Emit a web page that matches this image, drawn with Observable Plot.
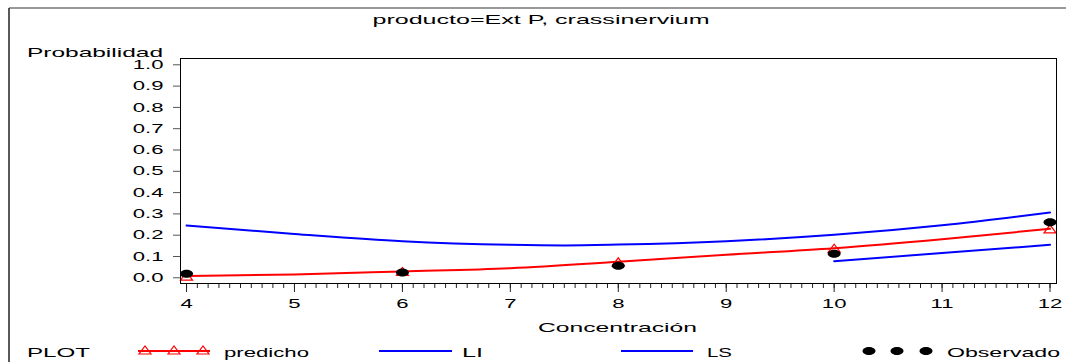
<!DOCTYPE html>
<html><head><meta charset="utf-8">
<script src="https://cdn.jsdelivr.net/npm/d3@7"></script>
<script src="https://cdn.jsdelivr.net/npm/@observablehq/plot@0.6"></script>
<style>
body{margin:0;background:#fff;}
#wrap{position:relative;width:1066px;height:362px;overflow:hidden;font-family:"Liberation Sans",Arial,sans-serif;}
#wrap svg{position:absolute;left:0;top:0;}
</style></head><body><div id="wrap"></div>
<script>
// ---- data ----
const titleText = "producto=Ext P, crassinervium";
const yLabel = "Probabilidad";
const xLabel = "Concentración";
const legendLabels = ["predicho", "LI", "LS", "Observado"];

const predX = [4, 5, 6, 7, 8, 9, 10, 11, 12];
const predY = [0.008, 0.016, 0.030, 0.045, 0.075, 0.108, 0.139, 0.181, 0.230];
const predMarkX = [4, 6, 8, 10, 12];
const predMarkY = [0.008, 0.030, 0.075, 0.139, 0.230];
const lsX = [4, 5, 6, 7, 7.5, 8, 9, 10, 11, 12];
const lsY = [0.245, 0.206, 0.172, 0.155, 0.152, 0.156, 0.172, 0.202, 0.247, 0.307];
const liX = [10, 11, 12];
const liY = [0.078, 0.116, 0.155];
const obsX = [4, 6, 8, 10, 12];
const obsY = [0.019, 0.025, 0.056, 0.113, 0.261];
const xTicks = [4, 5, 6, 7, 8, 9, 10, 11, 12];
const yTicks = [0, 0.1, 0.2, 0.3, 0.4, 0.5, 0.6, 0.7, 0.8, 0.9, 1.0];

const toRows = (xs, ys) => xs.map((x, i) => ({x, y: ys[i]}));
const pred = toRows(predX, predY);
const predMarks = toRows(predMarkX, predMarkY);
const ls = toRows(lsX, lsY);
const li = toRows(liX, liY);
const obs = toRows(obsX, obsY);
const minorTicks = d3.range(40, 121).map(v => v / 10);

// custom stretched symbols
const ellipseSym = {draw(ctx) {
  const rx = 6.5, ry = 4, k = 0.5523;
  ctx.moveTo(rx, 0);
  ctx.bezierCurveTo(rx, ry * k, rx * k, ry, 0, ry);
  ctx.bezierCurveTo(-rx * k, ry, -rx, ry * k, -rx, 0);
  ctx.bezierCurveTo(-rx, -ry * k, -rx * k, -ry, 0, -ry);
  ctx.bezierCurveTo(rx * k, -ry, rx, -ry * k, rx, 0);
  ctx.closePath();
}};
const triSym = {draw(ctx) {
  ctx.moveTo(-6, 4); ctx.lineTo(6, 4); ctx.lineTo(0, -4); ctx.closePath();
}};

const plot = Plot.plot({
  width: 1066, height: 362,
  marginLeft: 180, marginRight: 10, marginTop: 58, marginBottom: 79,
  style: {fontFamily: "'Liberation Sans', Arial, sans-serif", fontSize: "13px", color: "black", background: "transparent"},
  x: {domain: [3.944, 12.06], label: null},
  y: {domain: [-0.0268, 1.0296], label: null},
  marks: [
    Plot.axisX(minorTicks, {tickSize: 5, tickFormat: () => "", label: null, stroke: "#222"}),
    Plot.axisX(xTicks, {tickSize: 9, tickPadding: 6, label: null, stroke: "#222"}),
    Plot.axisY(yTicks, {tickSize: 7, tickPadding: 10, tickFormat: d3.format(".1f"), label: null, stroke: "#555"}),
    Plot.line(ls, {x: "x", y: "y", stroke: "#0000ff", strokeWidth: 2, curve: "monotone-x"}),
    Plot.line(li, {x: "x", y: "y", stroke: "#0000ff", strokeWidth: 2, curve: "monotone-x"}),
    Plot.line(pred, {x: "x", y: "y", stroke: "#ff0000", strokeWidth: 2, curve: "monotone-x"}),
    Plot.dot(predMarks, {x: "x", y: "y", symbol: triSym, stroke: "#ff0000", fill: "none", strokeWidth: 1.2, r: 4}),
    Plot.dot(obs, {x: "x", y: "y", symbol: ellipseSym, fill: "black", stroke: "none", r: 4}),
    Plot.frame({stroke: "black"})
  ]
});

const wrap = document.getElementById("wrap");
wrap.appendChild(plot);

function stretch(el, ratio) {
  const w = el.getComputedTextLength();
  if (w > 0) {
    el.setAttribute("textLength", w * ratio);
    el.setAttribute("lengthAdjust", "spacingAndGlyphs");
  }
}
d3.select(plot).selectAll('g[aria-label="x-axis tick label"] text, g[aria-label="y-axis tick label"] text')
  .each(function() { stretch(this, 1.7); });

// overlay: title, axis labels, legend, outer border
const ov = d3.select(wrap).append("svg").attr("width", 1066).attr("height", 362)
  .style("font-family", "'Liberation Sans', Arial, sans-serif").style("font-size", "13px");

ov.append("line").attr("x1", 9).attr("y1", 8).attr("x2", 1066).attr("y2", 8).attr("stroke", "#777").attr("stroke-width", 1.5);
ov.append("line").attr("x1", 9).attr("y1", 8).attr("x2", 9).attr("y2", 362).attr("stroke", "#222").attr("stroke-width", 1.5);

function txt(s, x, y, len, anchor = "start") {
  return ov.append("text").attr("x", x).attr("y", y).attr("text-anchor", anchor)
    .attr("textLength", len).attr("lengthAdjust", "spacingAndGlyphs").attr("fill", "black").text(s);
}
txt(titleText, 541, 24, 337, "middle");
txt(yLabel, 27, 57, 136);
txt(xLabel, 538, 332, 159);

const ly = 351;
txt("PLOT", 27, 357, 63);
// predicho
ov.append("line").attr("x1", 138).attr("x2", 210).attr("y1", ly).attr("y2", ly).attr("stroke", "#ff0000").attr("stroke-width", 2);
[145, 174, 203].forEach(cx => {
  ov.append("path").attr("d", d3.symbol(triSym)()).attr("transform", `translate(${cx},${ly - 1})`)
    .attr("fill", "none").attr("stroke", "#ff0000").attr("stroke-width", 1.2);
});
txt(legendLabels[0], 224, 357, 85);
// LI
ov.append("line").attr("x1", 379).attr("x2", 452).attr("y1", ly).attr("y2", ly).attr("stroke", "#0000ff").attr("stroke-width", 2);
txt(legendLabels[1], 462, 357, 21);
// LS
ov.append("line").attr("x1", 621).attr("x2", 693).attr("y1", ly).attr("y2", ly).attr("stroke", "#0000ff").attr("stroke-width", 2);
txt(legendLabels[2], 707, 357, 25);
// Observado
[869, 897, 926].forEach(cx => {
  ov.append("path").attr("d", d3.symbol(ellipseSym)()).attr("transform", `translate(${cx},${ly})`).attr("fill", "black");
});
txt(legendLabels[3], 947, 357, 113);
</script></body></html>
